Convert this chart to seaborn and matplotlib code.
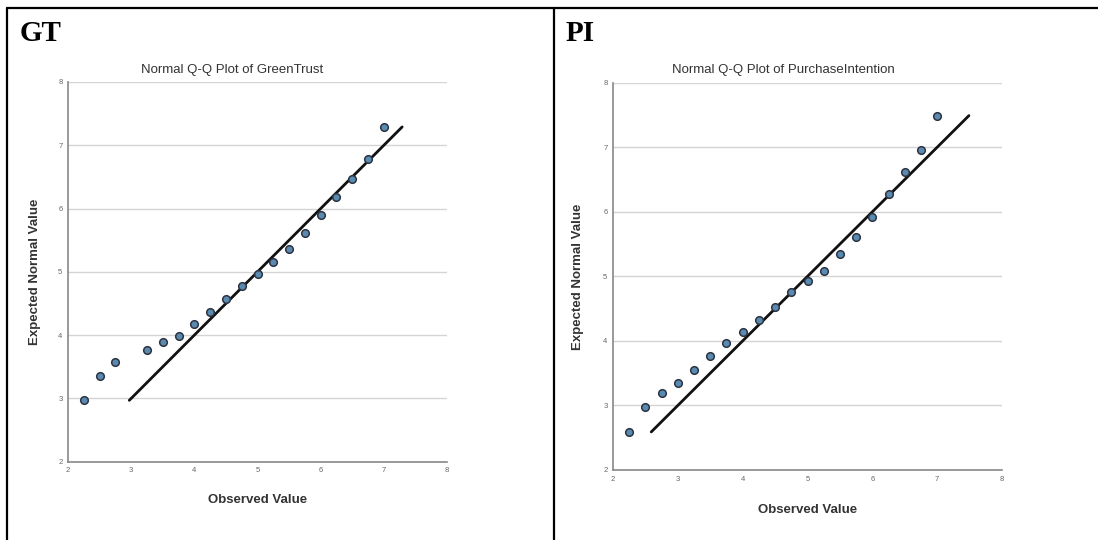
import matplotlib
matplotlib.use("Agg")
import matplotlib.pyplot as plt
import numpy as np
import pandas as pd
import seaborn as sns

# values
gt_observed = [2.25, 2.5, 2.75, 3.25, 3.5, 3.75, 4.0, 4.25, 4.5, 4.75,
               5.0, 5.25, 5.5, 5.75, 6.0, 6.25, 6.5, 6.75, 7.0]
gt_expected = [2.97, 3.35, 3.57, 3.77, 3.89, 3.99, 4.18, 4.37, 4.57, 4.77,
               4.97, 5.15, 5.36, 5.62, 5.90, 6.18, 6.46, 6.79, 7.29]

pi_observed = [2.25, 2.5, 2.75, 3.0, 3.25, 3.5, 3.75, 4.0, 4.25, 4.5,
               4.75, 5.0, 5.25, 5.5, 5.75, 6.0, 6.25, 6.5, 6.75, 7.0]
pi_expected = [2.59, 2.98, 3.20, 3.35, 3.55, 3.77, 3.96, 4.14, 4.32, 4.53,
               4.75, 4.93, 5.08, 5.34, 5.61, 5.92, 6.28, 6.61, 6.96, 7.49]

panel_tags = ["GT", "PI"]
titles = ["Normal Q-Q Plot of GreenTrust", "Normal Q-Q Plot of PurchaseIntention"]
ticks = [2, 3, 4, 5, 6, 7, 8]

sns.set_style("white")
plt.rcParams['font.family'] = ['Liberation Sans', 'DejaVu Sans']

fig = plt.figure(figsize=(10.98, 5.4), dpi=100)

# table borders: top, left, middle divider
fig.add_artist(plt.Line2D([0.006, 1.0], [1 - 8 / 540, 1 - 8 / 540], color='black', lw=1.6))
fig.add_artist(plt.Line2D([7 / 1098, 7 / 1098], [0, 1 - 8 / 540], color='black', lw=1.6))
fig.add_artist(plt.Line2D([554 / 1098, 554 / 1098], [0, 1 - 8 / 540], color='black', lw=1.6))

axes_boxes = [
    [68 / 1098, (540 - 461.7) / 540, 379 / 1098, 379.7 / 540],
    [613 / 1098, (540 - 470) / 540, 389 / 1098, 387.3 / 540],
]
tag_pos = [(20 / 1098, 1 - 41 / 540), (566 / 1098, 1 - 41 / 540)]
title_x = [232 / 1098, 783 / 1098]
title_y = [1 - 70 / 540, 1 - 70 / 540]
xlabel_y = [1 - 500 / 540, 1 - 510 / 540]
ylabel_x = [35 / 1098, 578 / 1098]

datasets = [(gt_observed, gt_expected), (pi_observed, pi_expected)]

for i, (obs, exp) in enumerate(datasets):
    df = pd.DataFrame({"Observed": obs, "Expected": exp})
    lo, hi = min(exp), max(exp)
    ref = pd.DataFrame({"x": [lo, hi], "y": [lo, hi]})

    ax = fig.add_axes(axes_boxes[i])
    ax.set_xlim(2, 8)
    ax.set_ylim(2, 8)
    for t in ticks[1:]:
        ax.axhline(t, color='#d4d4d4', lw=1.0, zorder=0)

    sns.lineplot(data=ref, x="x", y="y", ax=ax, color='#111111', lw=2.0, zorder=2)
    sns.scatterplot(data=df, x="Observed", y="Expected", ax=ax, s=30,
                    color='#5a8ab0', edgecolor='#2b3440', linewidth=1.1, zorder=3)

    ax.set_xticks(ticks)
    ax.set_yticks(ticks)
    ax.tick_params(labelsize=5.5, colors='#666666', length=2, width=0.6, pad=2)
    ax.tick_params(axis='x', length=0, pad=4)
    for s in ['top', 'right']:
        ax.spines[s].set_visible(False)
    for s in ['left', 'bottom']:
        ax.spines[s].set_color('#888888')
        ax.spines[s].set_linewidth(1.2)
    ax.set_xlabel("")
    ax.set_ylabel("")

    fig.text(title_x[i], title_y[i], titles[i], ha='center', va='center',
             fontsize=9.5, color='#333333')
    fig.text((axes_boxes[i][0] + axes_boxes[i][2] / 2), xlabel_y[i], "Observed Value",
             ha='center', va='center', fontsize=9.5, fontweight='bold', color='#333333')
    fig.text(ylabel_x[i], axes_boxes[i][1] + axes_boxes[i][3] / 2, "Expected Normal Value",
             ha='center', va='center', rotation=90, fontsize=9.5, fontweight='bold',
             color='#333333')
    fig.text(tag_pos[i][0], tag_pos[i][1], panel_tags[i], ha='left', va='baseline',
             fontsize=21, fontweight='bold', family=['Liberation Serif', 'DejaVu Serif'],
             color='black')

fig.savefig("out.png", dpi=100)
